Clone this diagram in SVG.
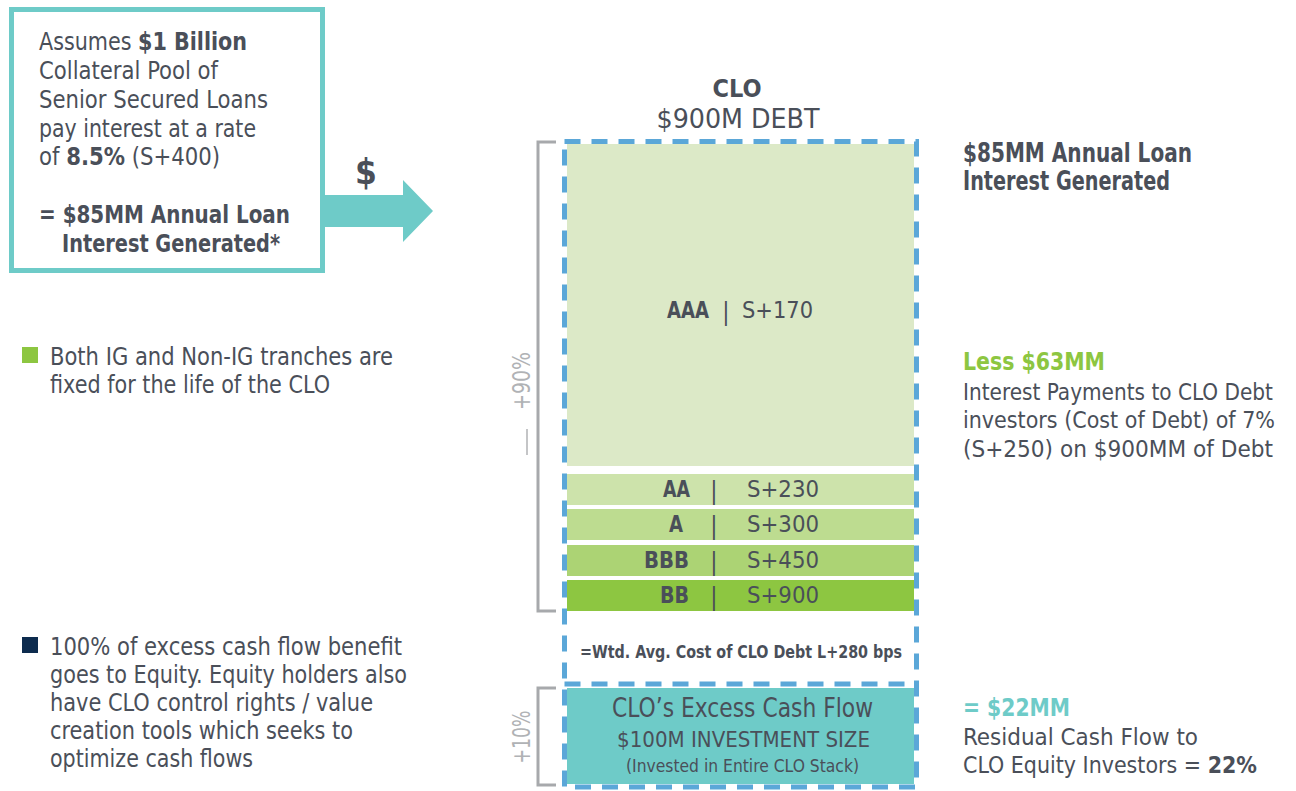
<svg xmlns="http://www.w3.org/2000/svg" width="1296" height="791" viewBox="0 0 1296 791">
<style>
text{font-family:"Liberation Sans Narrow","DejaVu Sans Condensed","Liberation Sans",Arial,sans-serif;fill:#4a4f59}
.b{font-weight:bold}
.body{font-size:24px}
.rb{font-size:23px}
.grade{font-size:23px;font-weight:bold}
.spr{font-size:23px}
.bar{font-size:24px;font-weight:300}
.pct{font-size:24px;fill:#b0b2b5}
.brk{fill:none;stroke:#a7a9ac;stroke-width:3}
.dash{fill:none;stroke:#5ba7d8;stroke-width:5;stroke-dasharray:16 11}
</style>
<rect width="1296" height="791" fill="#ffffff"/>

<g id="source-box">
<rect x="11.5" y="9.5" width="311" height="261" fill="#ffffff" stroke="#6ecbc8" stroke-width="5"/>
<text class="body" x="39" y="50" textLength="208" lengthAdjust="spacingAndGlyphs">Assumes <tspan class="b">$1 Billion</tspan></text>
<text class="body" x="39" y="79" textLength="179" lengthAdjust="spacingAndGlyphs">Collateral Pool of</text>
<text class="body" x="39" y="108" textLength="229" lengthAdjust="spacingAndGlyphs">Senior Secured Loans</text>
<text class="body" x="39" y="137" textLength="217" lengthAdjust="spacingAndGlyphs">pay interest at a rate</text>
<text class="body" x="39" y="165" textLength="181" lengthAdjust="spacingAndGlyphs">of <tspan class="b">8.5%</tspan> (S+400)</text>
<text class="body b" x="39" y="223" textLength="251" lengthAdjust="spacingAndGlyphs">= $85MM Annual Loan</text>
<text class="body b" x="62" y="252" textLength="218" lengthAdjust="spacingAndGlyphs">Interest Generated*</text>
</g>

<g id="connectors">
<polygon points="325,195 403,195 403,180 433,211 403,242 403,227 325,227" fill="#6ecbc8"/>
<text class="b" x="366" y="184" font-size="35" text-anchor="middle">$</text>
</g>

<g id="clo-title">
<text class="b" x="737" y="97" font-size="24" text-anchor="middle" textLength="49" lengthAdjust="spacingAndGlyphs">CLO</text>
<text x="738" y="128" font-size="27" text-anchor="middle" textLength="163" lengthAdjust="spacingAndGlyphs">$900M DEBT</text>
</g>

<g id="tranche-aaa">
<rect x="567" y="144" width="347" height="322" fill="#dce9c7"/>
<text class="grade" x="667" y="318" textLength="42" lengthAdjust="spacingAndGlyphs">AAA</text>
<text class="bar" x="726" y="320" text-anchor="middle">|</text>
<text class="spr" x="742" y="318" textLength="71" lengthAdjust="spacingAndGlyphs">S+170</text>
</g>
<g id="tranche-aa">
<rect x="567" y="474" width="347" height="31" fill="#cde3ab"/>
<text class="grade" x="663" y="497" textLength="27" lengthAdjust="spacingAndGlyphs">AA</text>
<text class="bar" x="714" y="499" text-anchor="middle">|</text>
<text class="spr" x="747" y="497" textLength="72" lengthAdjust="spacingAndGlyphs">S+230</text>
</g>
<g id="tranche-a">
<rect x="567" y="509" width="347" height="31" fill="#bddc90"/>
<text class="grade" x="669" y="532" textLength="14" lengthAdjust="spacingAndGlyphs">A</text>
<text class="bar" x="714" y="534" text-anchor="middle">|</text>
<text class="spr" x="747" y="532" textLength="72" lengthAdjust="spacingAndGlyphs">S+300</text>
</g>
<g id="tranche-bbb">
<rect x="567" y="545" width="347" height="31" fill="#acd374"/>
<text class="grade" x="644" y="568" textLength="45" lengthAdjust="spacingAndGlyphs">BBB</text>
<text class="bar" x="714" y="570" text-anchor="middle">|</text>
<text class="spr" x="747" y="568" textLength="72" lengthAdjust="spacingAndGlyphs">S+450</text>
</g>
<g id="tranche-bb">
<rect x="567" y="580" width="347" height="31" fill="#8dc641"/>
<text class="grade" x="660" y="603" textLength="29" lengthAdjust="spacingAndGlyphs">BB</text>
<text class="bar" x="714" y="605" text-anchor="middle">|</text>
<text class="spr" x="747" y="603" textLength="72" lengthAdjust="spacingAndGlyphs">S+900</text>
</g>

<g id="wtd-avg">
<text class="b" x="580" y="658" font-size="17" textLength="322" lengthAdjust="spacingAndGlyphs">=Wtd. Avg. Cost of CLO Debt L+280 bps</text>
</g>

<g id="equity">
<rect x="567" y="688" width="347" height="96" fill="#6ecbc8"/>
<text x="612" y="717" font-size="27" textLength="261" lengthAdjust="spacingAndGlyphs">CLO’s Excess Cash Flow</text>
<text x="617" y="747" font-size="21" textLength="253" lengthAdjust="spacingAndGlyphs">$100M INVESTMENT SIZE</text>
<text x="626" y="772" font-size="18" textLength="233" lengthAdjust="spacingAndGlyphs">(Invested in Entire CLO Stack)</text>
</g>

<g id="borders">
<rect class="dash" x="564.5" y="141.5" width="352" height="645.5"/>
<line class="dash" x1="564.5" y1="684" x2="916.5" y2="684"/>
</g>

<g id="brackets">
<path class="brk" d="M556,142 H538 V611 H556"/>
<path class="brk" d="M556,688 H538 V785 H556"/>
<text class="pct" transform="translate(530,381) rotate(-90)" text-anchor="middle" textLength="58" lengthAdjust="spacingAndGlyphs">+90%</text>
<line x1="527" y1="429" x2="527" y2="455" stroke="#b0b2b5" stroke-width="1.5"/>
<text class="pct" transform="translate(530,737) rotate(-90)" text-anchor="middle" textLength="53" lengthAdjust="spacingAndGlyphs">+10%</text>
</g>

<g id="note-interest">
<text class="b" x="963" y="162" font-size="26" textLength="229" lengthAdjust="spacingAndGlyphs">$85MM Annual Loan</text>
<text class="b" x="963" y="190" font-size="26" textLength="207" lengthAdjust="spacingAndGlyphs">Interest Generated</text>
</g>
<g id="note-debt">
<text class="b" x="963" y="370" font-size="25" style="fill:#8dc641" textLength="142" lengthAdjust="spacingAndGlyphs">Less $63MM</text>
<text class="rb" x="963" y="400" textLength="310" lengthAdjust="spacingAndGlyphs">Interest Payments to CLO Debt</text>
<text class="rb" x="963" y="428" textLength="312" lengthAdjust="spacingAndGlyphs">investors (Cost of Debt) of 7%</text>
<text class="rb" x="963" y="457" textLength="310" lengthAdjust="spacingAndGlyphs">(S+250) on $900MM of Debt</text>
</g>
<g id="note-equity">
<text class="b" x="963" y="716" font-size="25" style="fill:#6ecbc8" textLength="107" lengthAdjust="spacingAndGlyphs">= $22MM</text>
<text class="rb" x="963" y="745" textLength="235" lengthAdjust="spacingAndGlyphs">Residual Cash Flow to</text>
<text class="rb" x="963" y="773" textLength="294" lengthAdjust="spacingAndGlyphs">CLO Equity Investors = <tspan class="b">22%</tspan></text>
</g>

<g id="bullet-ig">
<rect x="22" y="347" width="16" height="16" fill="#8dc641"/>
<text class="body" x="50" y="365" textLength="343" lengthAdjust="spacingAndGlyphs">Both IG and Non-IG tranches are</text>
<text class="body" x="50" y="393" textLength="280" lengthAdjust="spacingAndGlyphs">fixed for the life of the CLO</text>
</g>
<g id="bullet-equity">
<rect x="22" y="637" width="16" height="16" fill="#0d2b4e"/>
<text class="body" x="50" y="655" textLength="352" lengthAdjust="spacingAndGlyphs">100% of excess cash flow benefit</text>
<text class="body" x="50" y="683" textLength="357" lengthAdjust="spacingAndGlyphs">goes to Equity. Equity holders also</text>
<text class="body" x="50" y="711" textLength="323" lengthAdjust="spacingAndGlyphs">have CLO control rights / value</text>
<text class="body" x="50" y="739" textLength="303" lengthAdjust="spacingAndGlyphs">creation tools which seeks to</text>
<text class="body" x="50" y="767" textLength="203" lengthAdjust="spacingAndGlyphs">optimize cash flows</text>
</g>
</svg>
